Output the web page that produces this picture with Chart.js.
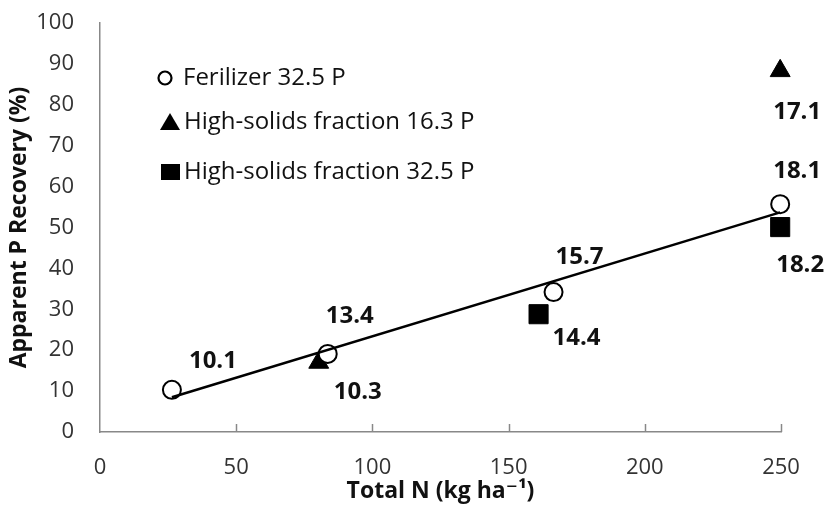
<!DOCTYPE html>
<html>
<head>
<meta charset="utf-8">
<script src="https://cdn.jsdelivr.net/npm/chart.js@4.4.1/dist/chart.umd.min.js"></script>
<style>
  html, body { margin: 0; padding: 0; background: #fff; }
  #wrap { width: 827px; height: 505px; }
</style>
</head>
<body>
<div id="wrap"><canvas id="chart" width="827" height="505"></canvas></div>
<script>
// data
const fertN = [26.4, 83.6, 166.5, 249.7];
const fertP = [10.3, 19.1, 34.2, 55.7];
const fertLabels = ["10.1", "13.4", "15.7", "18.1"];

const hs16N = [80.3, 249.7];
const hs16P = [17.0, 88.3];
const hs16Labels = ["10.3", "17.1"];

const hs32N = [161.0, 249.7];
const hs32P = [28.8, 50.1];
const hs32Labels = ["14.4", "18.2"];

const trendN = [26.4, 249.7];
const trendP = [8.5, 53.7];

const xTicks = [0, 50, 100, 150, 200, 250];
const seriesNames = ["Ferilizer 32.5 P", "High-solids fraction 16.3 P", "High-solids fraction 32.5 P"];

// label offsets in px from the marker
const fertOffsets = [[41, -29], [22, -38], [26, -35], [17, -33]];
const hs16Offsets = [[39, 30], [17, 41]];
const hs32Offsets = [[38, 24], [20, 38]];

const FONT = "'Open Sans', 'DejaVu Sans', sans-serif";

function toPoints(xs, ys) {
  return xs.map((x, i) => ({ x: x, y: ys[i] }));
}

// value labels next to the markers
const valueLabels = {
  id: "valueLabels",
  afterDatasetsDraw(chart) {
    const ctx = chart.ctx;
    const xs = chart.scales.x, ys = chart.scales.y;
    const groups = [
      [fertN, fertP, fertLabels, fertOffsets],
      [hs16N, hs16P, hs16Labels, hs16Offsets],
      [hs32N, hs32P, hs32Labels, hs32Offsets],
    ];
    ctx.save();
    ctx.font = "bold 24px " + FONT;
    ctx.fillStyle = "#111";
    ctx.textAlign = "center";
    ctx.textBaseline = "middle";
    groups.forEach(g => {
      g[0].forEach((n, i) => {
        const px = xs.getPixelForValue(n) + g[3][i][0];
        const py = ys.getPixelForValue(g[1][i]) + g[3][i][1];
        ctx.fillText(g[2][i], px, py);
      });
    });
    ctx.restore();
  }
};

// tick marks pointing up into the plot
const innerTicks = {
  id: "innerTicks",
  beforeDatasetsDraw(chart) {
    const ctx = chart.ctx;
    const xs = chart.scales.x;
    const bottom = chart.chartArea.bottom;
    ctx.save();
    ctx.strokeStyle = "#888";
    ctx.lineWidth = 1.5;
    xTicks.forEach(t => {
      if (t === 0) return;
      const px = Math.round(xs.getPixelForValue(t)) + 0.5;
      ctx.beginPath();
      ctx.moveTo(px, bottom);
      ctx.lineTo(px, bottom - 8);
      ctx.stroke();
    });
    ctx.restore();
  }
};

// legend inside the plot
const boxLegend = {
  id: "boxLegend",
  afterDraw(chart) {
    const ctx = chart.ctx;
    const rows = [78, 122, 172];
    ctx.save();
    // circle
    ctx.beginPath();
    ctx.arc(165, rows[0], 6.5, 0, Math.PI * 2);
    ctx.fillStyle = "#fff";
    ctx.fill();
    ctx.lineWidth = 2.2;
    ctx.strokeStyle = "#000";
    ctx.stroke();
    // triangle
    ctx.beginPath();
    ctx.moveTo(170, rows[1] - 9);
    ctx.lineTo(180, rows[1] + 8);
    ctx.lineTo(160, rows[1] + 8);
    ctx.closePath();
    ctx.fillStyle = "#000";
    ctx.fill();
    // square
    ctx.fillRect(161, rows[2] - 8, 19, 16);

    ctx.font = "24px " + FONT;
    ctx.fillStyle = "#111";
    ctx.textAlign = "left";
    ctx.textBaseline = "middle";
    ctx.fillText(seriesNames[0], 183, rows[0]);
    ctx.fillText(seriesNames[1], 184, rows[1]);
    ctx.fillText(seriesNames[2], 184, rows[2]);
    ctx.restore();
  }
};

new Chart(document.getElementById("chart"), {
  type: "scatter",
  data: {
    datasets: [
      {
        label: "trend",
        data: toPoints(trendN, trendP),
        showLine: true,
        borderColor: "#000",
        borderWidth: 2.5,
        pointRadius: 0,
        clip: false,
      },
      {
        label: seriesNames[0],
        data: toPoints(fertN, fertP),
        pointStyle: "circle",
        pointRadius: 9,
        pointBackgroundColor: "#fff",
        pointBorderColor: "#000",
        pointBorderWidth: 2,
        clip: false,
      },
      {
        label: seriesNames[1],
        data: toPoints(hs16N, hs16P),
        pointStyle: "triangle",
        pointRadius: 11.5,
        pointBackgroundColor: "#000",
        pointBorderColor: "#000",
        pointBorderWidth: 1,
        clip: false,
      },
      {
        label: seriesNames[2],
        data: toPoints(hs32N, hs32P),
        pointStyle: "rect",
        pointRadius: 13.5,
        pointBackgroundColor: "#000",
        pointBorderColor: "#000",
        pointBorderWidth: 1,
        clip: false,
      },
    ],
  },
  options: {
    responsive: false,
    animation: false,
    layout: { padding: { left: 0, top: 23, right: 46, bottom: 0 } },
    plugins: {
      legend: { display: false },
      tooltip: { enabled: false },
    },
    scales: {
      x: {
        type: "linear",
        min: 0,
        max: 250,
        afterBuildTicks: s => { s.ticks = xTicks.map(v => ({ value: v })); },
        ticks: { padding: 23, color: "#333", font: { family: FONT, size: 22 } },
        grid: { display: false, drawTicks: false },
        border: { color: "#888", width: 1.5 },
        title: {
          display: true,
          text: "Total N (kg ha\u207B\u00B9)",
          color: "#111",
          font: { family: FONT, size: 23, weight: "bold" },
          padding: { top: 0, bottom: 0 },
        },
        afterFit: s => { s.height = 73; s.paddingLeft = 0; s.paddingRight = 0; },
      },
      y: {
        min: 0,
        max: 100,
        ticks: { stepSize: 10, padding: 26, color: "#333", font: { family: FONT, size: 22 } },
        grid: { display: false, drawTicks: false },
        border: { color: "#888", width: 1.5 },
        title: {
          display: true,
          text: "Apparent P Recovery (%)",
          color: "#111",
          font: { family: FONT, size: 23, weight: "bold" },
          padding: { top: 6, bottom: 0 },
        },
        afterFit: s => { s.width = 100; s.paddingTop = 0; s.paddingBottom = 0; },
      },
    },
  },
  plugins: [innerTicks, valueLabels, boxLegend],
});
</script>
</body>
</html>
